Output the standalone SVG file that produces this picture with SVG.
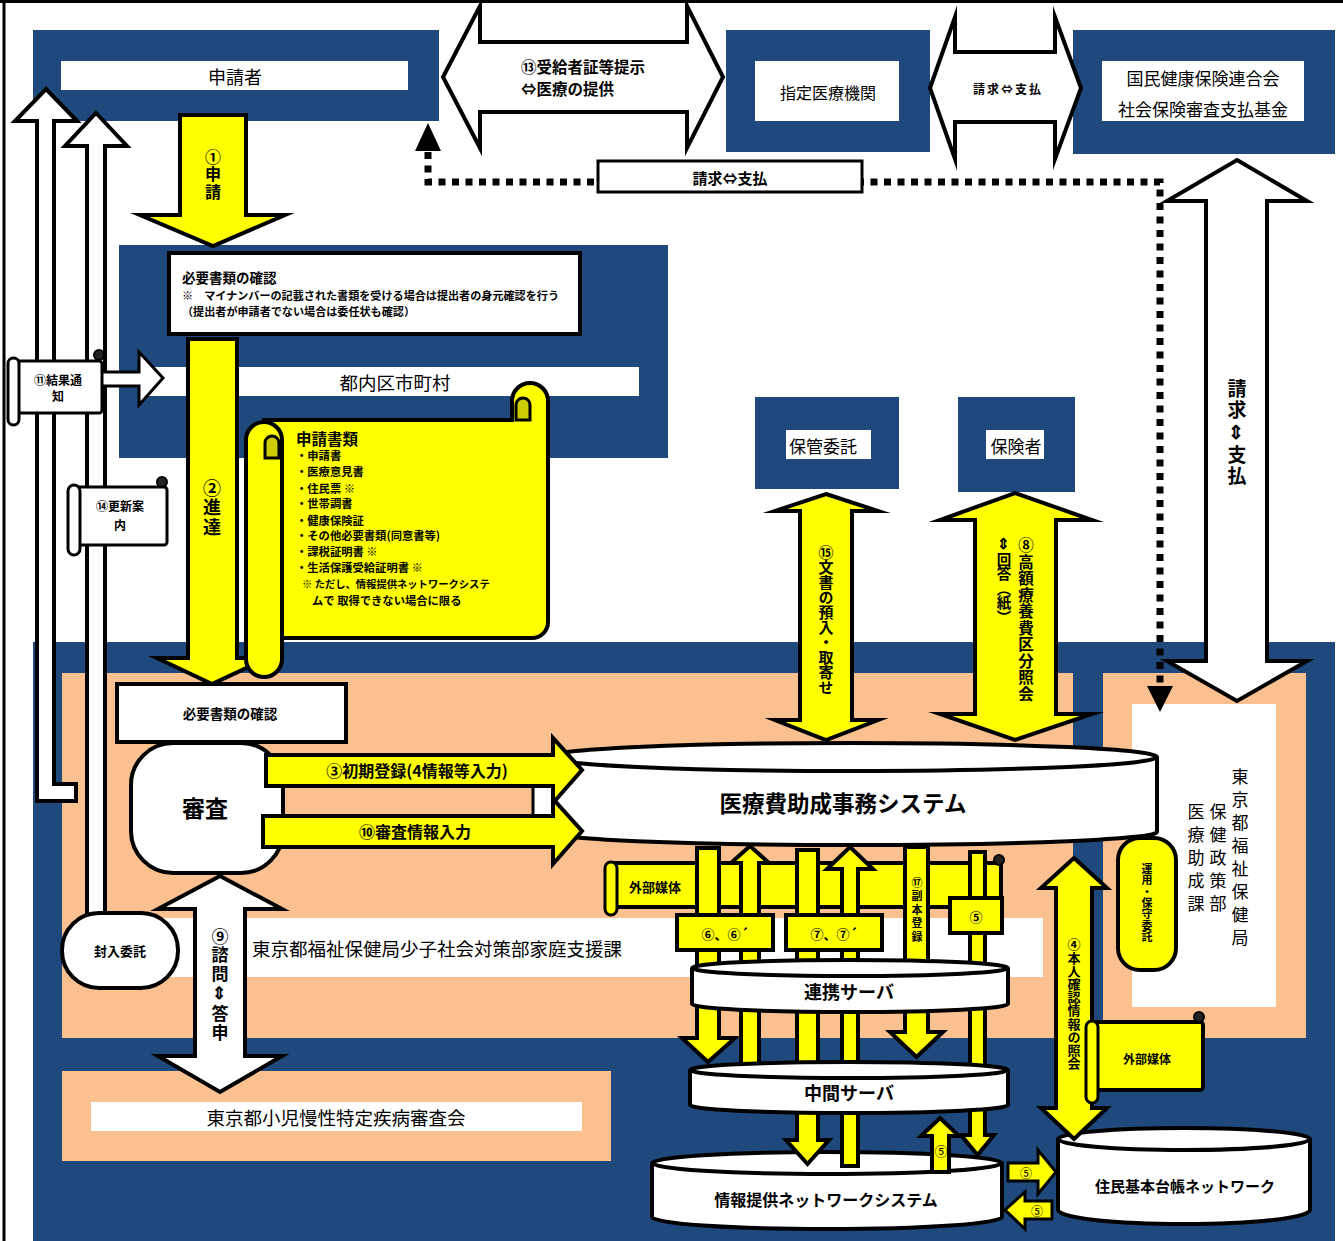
<svg xmlns="http://www.w3.org/2000/svg" width="1343" height="1241" viewBox="0 0 1343 1241">
<style>
text{font-family:"Noto Sans CJK JP","Noto Sans",sans-serif;dominant-baseline:central;fill:#000}
.v{writing-mode:vertical-rl;text-orientation:upright;text-anchor:middle}
.b{font-weight:700}
.c{text-anchor:middle}
.bl{fill:#1F497D}
.pe{fill:#FAC090}
.w{fill:#fff}
.s{stroke:#000;stroke-width:4;stroke-miterlimit:10}
.s3{stroke:#000;stroke-width:3;stroke-miterlimit:10}
.y{fill:#FFFF00}
.dy{fill:#CCCC00}
.k{fill:#222;stroke:#000;stroke-width:2}
</style>
<rect width="1343" height="1241" fill="#fff"/>
<path d="M0,1.5H1343M4,0V1241" stroke="#000" stroke-width="3" fill="none"/>
<g id="background">
<rect class="bl" x="33" y="642" width="1302" height="599"/>
<rect class="pe" x="62" y="673" width="1011" height="365"/>
<rect class="pe" x="1103" y="673" width="203" height="365"/>
<rect class="pe" x="62" y="1071" width="549" height="90"/>
</g>
<g id="applicant">
<rect class="bl" x="33" y="30" width="406" height="91"/>
<rect class="w" x="61" y="61" width="347" height="29"/>
<text class="c" x="235" y="76" font-size="18">申請者</text>
</g>
<g id="medical-institution">
<rect class="bl" x="726" y="30" width="204" height="122"/>
<rect class="w" x="755" y="61" width="144" height="60"/>
<text class="c" x="828" y="92" font-size="16">指定医療機関</text>
</g>
<g id="kokuho">
<rect class="bl" x="1073" y="30" width="262" height="124"/>
<rect class="w" x="1102" y="61" width="202" height="60"/>
<text class="c" x="1203" y="77" font-size="17">国民健康保険連合会</text>
<text class="c" x="1203" y="108" font-size="17">社会保険審査支払基金</text>
</g>
<g id="municipality">
<rect class="bl" x="119" y="245" width="549" height="213"/>
<rect class="w" x="148" y="367" width="491" height="29"/>
<text class="c" x="395" y="382" font-size="18.5">都内区市町村</text>
</g>
<g id="storage">
<rect class="bl" x="755" y="397" width="144" height="92"/>
<rect class="w" x="786" y="430" width="85" height="29"/>
<text class="c" x="823" y="445" font-size="17">保管委託</text>
</g>
<g id="insurer">
<rect class="bl" x="958" y="397" width="117" height="95"/>
<rect class="w" x="986" y="430" width="58" height="29"/>
<text class="c" x="1016" y="445" font-size="17">保険者</text>
</g>
<g id="family-support">
<rect class="w" x="160" y="918" width="883" height="59"/>
<text x="252" y="948" font-size="18.5">東京都福祉保健局少子社会対策部家庭支援課</text>
</g>
<g id="council">
<rect class="w" x="91" y="1102" width="491" height="29"/>
<text class="c" x="336" y="1117" font-size="18.5">東京都小児慢性特定疾病審査会</text>
</g>
<g id="medical-aid-division">
<rect class="w" x="1132" y="704" width="144" height="303"/>
<text class="v" font-size="17" letter-spacing="6" x="1240" y="860">東京都福祉保健局</text>
<text class="v" font-size="17" letter-spacing="6" x="1218" y="861">保健政策部</text>
<text class="v" font-size="17" letter-spacing="6" x="1196" y="861">医療助成課</text>
</g>
<g id="maintenance">
<rect class="y s" x="1118" y="838" width="58" height="132" rx="22"/>
<text class="v b" font-size="11" letter-spacing="0.3" x="1147" y="903">運用・保守委託</text>
</g>
<g id="connectors">
<polygon class="w s" points="46,89 77,121 54,121 54,784 76,784 76,801 37,801 37,121 15,121"/>
<polygon class="w s" points="96,113 127,146 105,146 105,925 87,925 87,146 65,146"/>
<polygon class="w s" points="443,77 480,6 480,42 687,42 687,6 723,77 687,148 687,112 480,112 480,148"/>
<text class="b" font-size="15.5"><tspan x="521" y="66">⑬受給者証等提示</tspan><tspan x="521" y="88">⇔医療の提供</tspan></text>
<polygon class="w s" points="930,88 955,17 955,52 1055,52 1055,17 1081,88 1055,159 1055,122 955,122 955,159"/>
<text class="b c" font-size="12" x="1008" y="88" letter-spacing="2">請求⇔支払</text>
<polygon class="w s" points="1237,160 1307,201 1267,201 1267,661 1307,661 1237,701 1167,661 1206,661 1206,201 1167,201"/>
<text class="v b" font-size="19" letter-spacing="2" x="1237" y="433">請求⇕支払</text>
<path d="M428,152V182H1160V686" fill="none" stroke="#000" stroke-width="7" stroke-dasharray="7 6.5"/>
<polygon points="428,123 441,151 415,151" fill="#000"/>
<polygon points="1160,712 1173,686 1147,686" fill="#000"/>
<rect class="w s3" x="598" y="161" width="264" height="31"/>
<text class="b c" font-size="15" x="730" y="177">請求⇔支払</text>
<polygon class="y s" points="180,115 246,115 246,215 285,215 213,246 140,215 180,215"/>
<text class="v b" font-size="16" letter-spacing="1.5" x="213" y="175">①申請</text>
<polygon class="y s" points="188,339 237,339 237,658 268,658 212,684 157,658 188,658"/>
<text class="v b" font-size="18" letter-spacing="1.5" x="212" y="508">②進達</text>
<polygon class="w s3" points="100,372 139,372 139,352 163,378 139,405 139,386 100,386"/>
</g>
<g id="check-docs-1">
<rect class="w s" x="169" y="253" width="411" height="81"/>
<text class="b" font-size="13.5" x="182" y="277">必要書類の確認</text>
<text class="b" font-size="11.1" x="182" y="295">※　マイナンバーの記載された書類を受ける場合は提出者の身元確認を行う</text>
<text class="b" font-size="11.1" x="182" y="311">（提出者が申請者でない場合は委任状も確認）</text>
</g>
<g id="application-docs">
<path class="y s" d="M264,420H512V401A18,18 0 0 1 548,401V622A16,16 0 0 1 532,638H282Z"/>
<path class="dy s3" d="M516,420V405A7,7 0 0 1 530,405V420Z"/>
<rect class="y s" x="246" y="422" width="36" height="255" rx="18"/>
<path class="dy s3" d="M265,458V443A7,7 0 0 1 279,443V458Z"/>
<text class="b" font-size="15.5" x="296" y="438">申請書類</text>
<text class="b" font-size="11.3"><tspan x="296" y="455">・申請書</tspan><tspan x="296" y="471">・医療意見書</tspan><tspan x="296" y="488">・住民票 ※</tspan><tspan x="296" y="503">・世帯調書</tspan><tspan x="296" y="520">・健康保険証</tspan><tspan x="296" y="535">・その他必要書類(同意書等)</tspan><tspan x="296" y="551">・課税証明書 ※</tspan><tspan x="296" y="567">・生活保護受給証明書 ※</tspan><tspan x="302" y="583" font-size="10.3">※ ただし、情報提供ネットワークシステ</tspan><tspan x="312" y="600">ムで 取得できない場合に限る</tspan></text>
</g>
<g id="result-notice">
<rect class="w s3" x="15" y="361" width="87" height="52" rx="3"/>
<rect class="w s3" x="8" y="358" width="11" height="67" rx="5.5"/>
<circle class="k" cx="99" cy="355" r="5"/>
<text class="b c" font-size="12"><tspan x="58" y="379">⑪結果通</tspan><tspan x="58" y="395">知</tspan></text>
</g>
<g id="renewal-notice">
<rect class="w s3" x="76" y="487" width="91" height="58" rx="3"/>
<rect class="w s3" x="68" y="485" width="12" height="70" rx="6"/>
<circle class="k" cx="162" cy="482" r="5"/>
<text class="b c" font-size="12"><tspan x="120" y="505">⑭更新案</tspan><tspan x="120" y="524">内</tspan></text>
</g>
<g id="connectors-2">
<polygon class="y s" points="826,494 878,511 852,511 852,720 878,720 826,740 775,720 800,720 800,511 775,511"/>
<text class="v b" font-size="15" x="826" y="620">⑮文書の預入・取寄せ</text>
<polygon class="y s" points="1015,493 1092,520 1056,520 1056,714 1092,714 1015,740 940,714 975,714 975,520 940,520"/>
<text class="v b" font-size="15.5" letter-spacing="1" x="1026" y="620">⑧高額療養費区分照会</text>
<text class="v b" font-size="14.5" x="1004" y="580">⇕回答（紙）</text>
</g>
<g id="external-media-1">
<rect class="y s" x="612" y="863" width="389" height="44" rx="3"/>
<rect class="y s3" x="605" y="862" width="12" height="53" rx="6"/>
<circle class="k" cx="999" cy="860" r="5"/>
<text class="b c" font-size="13" x="655" y="886">外部媒体</text>
</g>
<g id="info-network">
<path class="w s" d="M652,1163A175,11 0 0 1 1002,1163V1217A175,12 0 0 1 652,1217Z"/>
<path class="s" fill="none" d="M652,1163A175,11 0 0 0 1002,1163"/>
<text class="b c" font-size="16" x="826" y="1199">情報提供ネットワークシステム</text>
</g>
<g id="connectors-3">
<polygon class="y s" points="697,848 719,848 719,1038 735,1038 708,1062 682,1038 697,1038"/>
<polygon class="y s" points="750,846 769,863 759,863 759,1068 741,1068 741,863 731,863"/>
<polygon class="y s" points="797,850 818,850 818,1140 829,1140 807.5,1164 786,1140 797,1140"/>
<polygon class="y s" points="850,847 873,869 858,869 858,1166 842,1166 842,869 827,869"/>
<polygon class="y s" points="905,847 928,847 928,1032 943,1032 916.5,1057 890,1032 905,1032"/>
<text class="v b" font-size="11" letter-spacing="2.5" x="917" y="911">⑰副本登録</text>
<polygon class="y s" points="970,852 985,852 985,1135 994,1135 977.5,1155 961,1135 970,1135"/>
<polygon class="y s" points="940,1118 959,1136 949,1136 949,1172 932,1172 932,1136 921,1136"/>
<text class="c" font-size="13" x="941" y="1150">⑤</text>
</g>
<g id="linkage-server">
<path class="w s" d="M692,968A158,8 0 0 1 1008,968V1004A158,8 0 0 1 692,1004Z"/>
<path class="s" fill="none" d="M692,968A158,8 0 0 0 1008,968"/>
<text class="b c" font-size="18" x="849" y="991">連携サーバ</text>
</g>
<g id="intermediate-server">
<path class="w s" d="M690,1070A159,8 0 0 1 1008,1070V1105A159,8 0 0 1 690,1105Z"/>
<path class="s" fill="none" d="M690,1070A159,8 0 0 0 1008,1070"/>
<text class="b c" font-size="18" x="849" y="1092">中間サーバ</text>
</g>
<g id="labels">
<rect class="y s" x="677" y="915" width="96" height="35"/>
<text class="b c" font-size="13" x="725" y="933">⑥、⑥´</text>
<rect class="y s" x="786" y="915" width="96" height="35"/>
<text class="b c" font-size="13" x="834" y="933">⑦、⑦´</text>
<rect class="y s" x="950" y="898" width="52" height="35"/>
<text class="b c" font-size="13" x="976" y="916">⑤</text>
</g>
<g id="medical-aid-system">
<path class="w s" d="M548,757A304.5,14 0 0 1 1157,757V832A304.5,13 0 0 1 548,832Z"/>
<path class="s" fill="none" d="M548,757A304.5,14 0 0 0 1157,757"/>
<text class="b c" font-size="22.5" x="843" y="802">医療費助成事務システム</text>
</g>
<g id="check-docs-2">
<rect class="w s" x="117" y="684" width="229" height="58"/>
<text class="b c" font-size="13.5" x="230" y="713">必要書類の確認</text>
</g>
<g id="review">
<rect class="w s" x="131" y="743" width="152" height="130" rx="42"/>
<text class="b c" font-size="23" x="205" y="807">審査</text>
</g>
<g id="connectors-4">
<rect class="w s3" x="533" y="786" width="20" height="30"/>
<polygon class="y s" points="266,755 553,755 553,738 582,770 553,803 553,786 266,786"/>
<text class="b c" font-size="16" x="417" y="770">③初期登録(4情報等入力)</text>
<polygon class="y s" points="263,816 553,816 553,799 582,831 553,864 553,847 263,847"/>
<text class="b c" font-size="16" x="415" y="831">⑩審査情報入力</text>
</g>
<g id="enclosure">
<rect class="w s" x="62" y="913" width="116" height="75" rx="37"/>
<text class="b c" font-size="13" x="120" y="950">封入委託</text>
</g>
<g id="connectors-5">
<polygon class="w s" points="220,876 282,909 245,909 245,1056 282,1056 220,1092 158,1056 195,1056 195,909 158,909"/>
<text class="v b" font-size="17" letter-spacing="1.6" x="220" y="985">⑨諮問⇕答申</text>
</g>
<g id="juki-net">
<path class="w s" d="M1058,1139A126,11 0 0 1 1310,1139V1210A126,14 0 0 1 1058,1210Z"/>
<path class="s" fill="none" d="M1058,1139A126,11 0 0 0 1310,1139"/>
<text class="b c" font-size="15" x="1185" y="1185">住民基本台帳ネットワーク</text>
</g>
<g id="connectors-6">
<polygon class="y s" points="1074,858 1107,888 1092,888 1092,1108 1107,1108 1074,1139 1041,1108 1056,1108 1056,888 1041,888"/>
<text class="v b" font-size="13" letter-spacing="0.2" x="1074" y="1004">④本人確認情報の照会</text>
<polygon class="y s3" points="1008,1163 1038,1163 1038,1150 1056,1172 1038,1194 1038,1181 1008,1181"/>
<text class="c" font-size="12" x="1026" y="1172">⑤</text>
<polygon class="y s3" points="1005,1210 1025,1192 1025,1201 1052,1201 1052,1219 1025,1219 1025,1229"/>
<text class="c" font-size="12" x="1037" y="1210">⑤</text>
</g>
<g id="external-media-2">
<rect class="y s" x="1093" y="1022" width="110" height="68" rx="3"/>
<rect class="y s3" x="1086" y="1021" width="12" height="82" rx="6"/>
<circle class="k" cx="1199" cy="1017" r="5"/>
<text class="b c" font-size="12" x="1147" y="1058">外部媒体</text>
</g>
</svg>
